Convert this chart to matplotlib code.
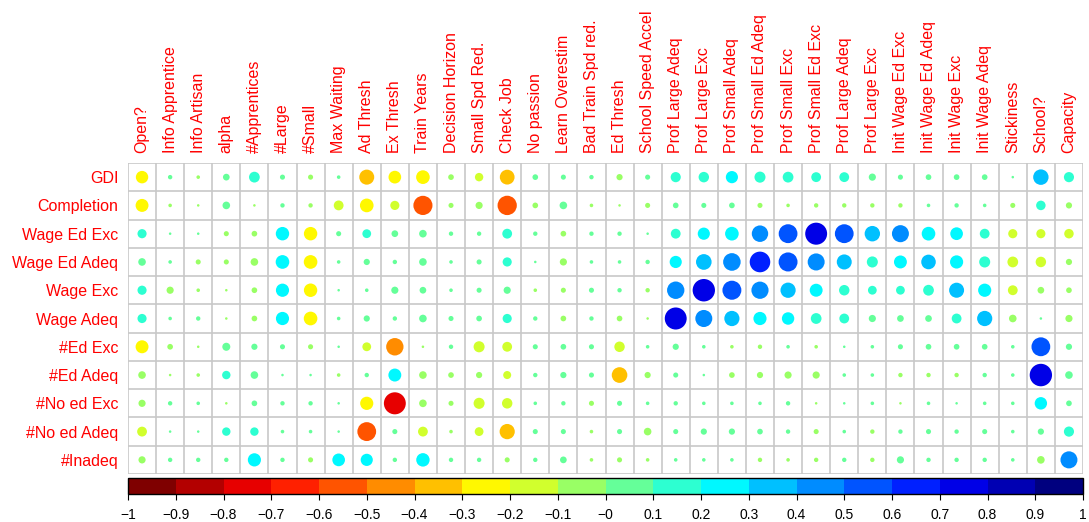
import numpy as np
import matplotlib
matplotlib.use("Agg")
from matplotlib import pyplot as plt
from matplotlib.colors import LinearSegmentedColormap, ListedColormap, BoundaryNorm
from matplotlib.patches import Circle
from matplotlib.cm import ScalarMappable

plt.rcParams['font.family'] = ['Liberation Sans', 'DejaVu Sans']

row_labels = ["GDI", "Completion", "Wage Ed Exc", "Wage Ed Adeq", "Wage Exc", "Wage Adeq",
              "#Ed Exc", "#Ed Adeq", "#No ed Exc", "#No ed Adeq", "#Inadeq"]
col_labels = ["Open?", "Info Apprentice", "Info Artisan", "alpha", "#Apprentices", "#Large",
              "#Small", "Max Waiting", "Ad Thresh", "Ex Thresh", "Train Years", "Decision Horizon",
              "Small Spd Red.", "Check Job", "No passion", "Learn Overestim", "Bad Train Spd red.",
              "Ed Thresh", "School Speed Accel", "Prof Large Adeq", "Prof Large Exc",
              "Prof Small Adeq", "Prof Small Ed Adeq", "Prof Small Exc", "Prof Small Ed Exc",
              "Prof Large Adeq", "Prof Large Exc", "Init Wage Ed Exc", "Init Wage Ed Adeq",
              "Init Wage Exc", "Init Wage Adeq", "Stickiness", "School?", "Capacity"]

# correlation values, one list per row
gdi = [-0.24, 0.03, -0.02, 0.07, 0.18, 0.04, -0.04, 0.02, -0.35, -0.25, -0.29, -0.05,
       -0.11, -0.34, 0.05, 0.04, 0.03, -0.06, 0.04, 0.16, 0.17, 0.23, 0.19, 0.18,
       0.15, 0.15, 0.08, 0.04, 0.05, 0.05, 0.05, 0.01, 0.37, 0.16]
completion = [-0.26, -0.02, -0.01, 0.09, -0.01, 0.03, -0.03, -0.15, -0.29, -0.13, -0.57, -0.04,
              -0.08, -0.58, -0.05, 0.09, -0.02, -0.01, -0.04, 0.05, 0.04, 0.05, -0.04, -0.02,
              -0.03, -0.03, -0.03, -0.03, 0.02, 0.03, 0.02, -0.04, 0.14, -0.06]
wage_ed_exc = [0.13, 0.01, 0.01, -0.04, -0.05, 0.28, -0.28, 0.04, 0.12, 0.07, 0.09, 0.03,
               0.03, 0.15, 0.03, -0.05, 0.03, 0.03, 0.01, 0.15, 0.23, 0.29, 0.42, 0.55,
               0.75, 0.55, 0.37, 0.45, 0.29, 0.25, 0.15, -0.13, -0.13, -0.14]
wage_ed_adeq = [0.09, 0.02, -0.04, -0.04, -0.09, 0.29, -0.29, 0.02, 0.06, 0.03, 0.09, 0.02,
                0.04, 0.13, 0.01, -0.08, 0.02, 0.02, 0.03, 0.23, 0.38, 0.48, 0.66, 0.56,
                0.45, 0.35, 0.19, 0.26, 0.33, 0.27, 0.19, -0.18, -0.17, -0.06]
wage_exc = [0.13, -0.08, -0.02, -0.01, -0.05, 0.27, -0.28, 0.01, 0.02, 0.08, 0.07, 0.02,
            0.04, 0.08, -0.02, -0.04, 0.04, 0.03, -0.03, 0.47, 0.78, 0.56, 0.46, 0.36,
            0.26, 0.17, 0.12, 0.12, 0.18, 0.35, 0.27, -0.15, -0.07, -0.05]
wage_adeq = [0.13, 0.02, 0.03, -0.01, -0.05, 0.27, -0.29, 0.02, 0.06, 0.03, 0.09, 0.04,
             0.05, 0.13, 0.03, -0.05, 0.03, -0.05, -0.01, 0.75, 0.45, 0.36, 0.27, 0.24,
             0.18, 0.15, 0.08, 0.07, 0.07, 0.15, 0.36, -0.09, 0.01, -0.08]
ed_exc = [-0.26, -0.05, -0.01, 0.10, 0.06, 0.04, -0.04, 0.01, -0.12, -0.47, -0.01, 0.03,
          -0.19, -0.15, 0.04, 0.05, 0.04, -0.17, 0.02, 0.06, 0.02, -0.02, -0.03, 0.02,
          -0.02, 0.01, 0.02, 0.04, 0.05, 0.05, 0.05, 0.02, 0.55, 0.06]
ed_adeq = [-0.09, -0.01, -0.02, 0.11, 0.09, 0.01, 0.01, -0.02, 0.03, 0.26, -0.09, -0.05,
           -0.06, -0.10, 0.03, 0.06, 0.04, -0.38, -0.06, 0.04, 0.01, -0.05, -0.06, -0.08,
           -0.08, 0.02, 0.02, -0.03, -0.03, -0.03, 0.03, 0.02, 0.78, 0.09]
no_ed_exc = [-0.08, 0.03, 0.02, -0.01, 0.05, 0.03, 0.03, 0.01, -0.27, -0.75, -0.09, -0.04,
             -0.19, -0.17, 0.02, 0.03, -0.04, 0.04, 0.02, 0.03, 0.02, 0.02, 0.02, 0.03,
             -0.01, 0.01, 0.02, -0.01, 0.02, 0.01, 0.02, 0.02, 0.24, 0.05]
no_ed_adeq = [-0.15, 0.01, 0.01, 0.11, 0.11, 0.02, 0.02, 0.01, -0.55, 0.04, -0.15, -0.02,
              -0.12, -0.36, 0.04, 0.04, -0.02, 0.04, -0.09, 0.04, 0.06, 0.06, 0.05, 0.03,
              -0.04, 0.02, -0.03, 0.03, 0.04, 0.03, 0.04, 0.02, 0.06, 0.16]
inadeq = [-0.08, 0.03, 0.03, 0.03, 0.27, 0.03, -0.04, 0.25, 0.23, 0.03, 0.28, 0.03,
          0.03, -0.04, 0.03, 0.07, -0.02, -0.04, -0.02, 0.02, 0.02, 0.02, -0.03, -0.02,
          -0.03, 0.03, -0.03, 0.08, 0.03, 0.03, 0.03, 0.02, -0.09, 0.45]

corr = np.array([gdi, completion, wage_ed_exc, wage_ed_adeq, wage_exc, wage_adeq,
                 ed_exc, ed_adeq, no_ed_exc, no_ed_adeq, inadeq])

# corrplot-like jet palette, 20 bins
ramp = LinearSegmentedColormap.from_list(
    "jetr", ["#7F0000", "red", "#FF7F00", "yellow", "#7FFF7F", "cyan", "#007FFF", "blue", "#00007F"])
cmap = ListedColormap([ramp(i / 19) for i in range(20)])
bounds = np.linspace(-1, 1, 21)
norm = BoundaryNorm(bounds, cmap.N)

W, H = 1089, 522
fig = plt.figure(figsize=(W / 100, H / 100), dpi=100)
x0, x1, ytop, ybot = 128, 1083, 163, 474
ax = fig.add_axes([x0 / W, 1 - ybot / H, (x1 - x0) / W, (ybot - ytop) / H])

nr, nc = corr.shape
ax.set_xlim(0, nc)
ax.set_ylim(nr, 0)
grid_col = "#C8C8C8"
for i in range(nc + 1):
    ax.plot([i, i], [0, nr], color=grid_col, lw=1.2, zorder=1)
for j in range(nr + 1):
    ax.plot([0, nc], [j, j], color=grid_col, lw=1.2, zorder=1)

for r in range(nr):
    for c in range(nc):
        v = corr[r, c]
        rad = 0.45 * np.sqrt(abs(v))
        ax.add_patch(Circle((c + 0.5, r + 0.5), rad, facecolor=cmap(norm(v)),
                            edgecolor="none", zorder=2))

ax.set_xticks(np.arange(nc) + 0.5)
ax.set_xticklabels(col_labels, rotation=90, color="red", fontsize=11.5)
ax.set_yticks(np.arange(nr) + 0.5)
ax.set_yticklabels(row_labels, color="red", fontsize=11.5)
ax.xaxis.tick_top()
ax.tick_params(length=0, pad=7)
for s in ax.spines.values():
    s.set_visible(False)

# colour bar
cax = fig.add_axes([x0 / W, 1 - 494 / H, (x1 - x0) / W, 16 / H])
sm = ScalarMappable(norm=norm, cmap=cmap)
cb = fig.colorbar(sm, cax=cax, orientation="horizontal", boundaries=bounds)
ticks = np.round(np.arange(-1, 1.01, 0.1), 1)
cb.set_ticks(ticks)
cb.set_ticklabels([f"{t:g}".replace("-", "\u2212") for t in ticks])
cax.tick_params(labelsize=10, length=4, width=0.8, pad=6)
cb.outline.set_linewidth(1)

fig.savefig("out.png", dpi=100)
